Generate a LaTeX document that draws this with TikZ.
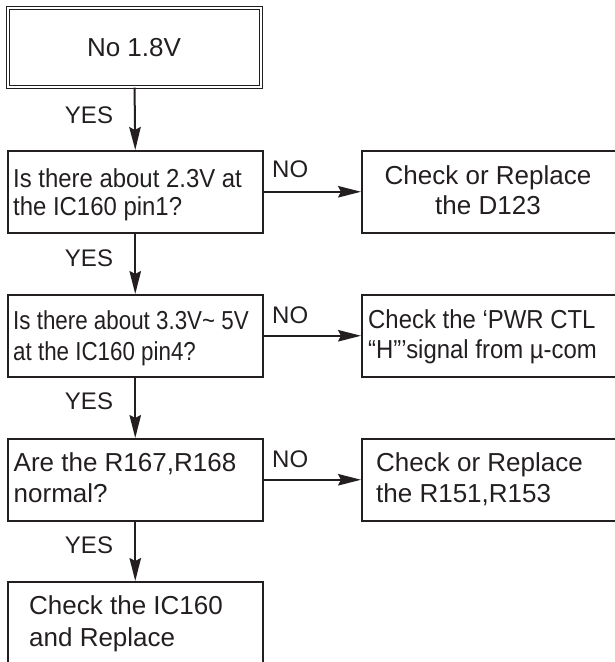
\documentclass[tikz,border=0pt]{standalone}
\usepackage{fontspec}
\setmainfont{Liberation Sans}
\newfontfamily\narrowA[FakeStretch=0.92]{Liberation Sans}
\newfontfamily\narrowB[FakeStretch=0.86]{Liberation Sans}
\usetikzlibrary{arrows.meta}
\definecolor{ink}{HTML}{231F20}
\begin{document}
\begin{tikzpicture}[x=1pt,y=-1pt,
  box/.style={draw=ink, line width=1.5pt, inner sep=0pt, anchor=north west},
  arr/.style={draw=ink, line width=2pt, -{Stealth[length=23pt,width=11.5pt,inset=3pt]}},
  txt/.style={text=ink, inner sep=0pt, anchor=base west, font=\fontsize{26}{30}\selectfont},
  ctxt/.style={text=ink, inner sep=0pt, anchor=base, font=\fontsize{26}{30}\selectfont},
  lbl/.style={text=ink, inner sep=0pt, anchor=base, font=\fontsize{24}{28}\selectfont},
  nlbl/.style={text=ink, inner sep=0pt, anchor=base west, font=\fontsize{24}{28}\selectfont}]
\useasboundingbox (0,0) rectangle (615,662);
\clip (0,0) rectangle (615,662);
% boxes
\node[box, draw=ink, double, double distance=2pt, line width=1.1pt,
      minimum width=253pt, minimum height=79pt] (b1) at (7.5,7.5) {};
\node[box, minimum width=255pt, minimum height=82pt] (b2) at (7,150) {};
\node[box, minimum width=255pt, minimum height=82pt] (b3) at (7,294) {};
\node[box, minimum width=255pt, minimum height=82pt] (b4) at (7,438) {};
\node[box, minimum width=255pt, minimum height=90pt] (b5) at (7,581) {};
\node[box, minimum width=260pt, minimum height=82pt] (r1) at (361,150) {};
\node[box, minimum width=260pt, minimum height=82pt] (r2) at (361,294) {};
\node[box, minimum width=260pt, minimum height=82pt] (r3) at (361,438) {};
% texts
\node[ctxt] (t1) at (134,56.5) {No 1.8V};
\node[txt] (t2a) at (13,187) {\narrowA Is there about 2.3V at};
\node[txt] (t2b) at (13,215.5) {\narrowA the IC160 pin1?};
\node[txt] (t3a) at (13,329) {\narrowB Is there about 3.3V\char"007E\ 5V};
\node[txt] (t3b) at (13,360) {\narrowB at the IC160 pin4?};
\node[txt] (t4a) at (13.5,471) {Are the R167,R168};
\node[txt] (t4b) at (13.5,502) {normal?};
\node[txt] (t5a) at (29,614) {Check the IC160};
\node[txt] (t5b) at (29,646.5) {and Replace};
\node[ctxt] (u1a) at (488,184) {Check or Replace};
\node[ctxt] (u1b) at (488,214) {the D123};
\node[txt] (u2a) at (368,328) {\narrowA Check the ‘PWR CTL};
\node[txt] (u2b) at (368,358) {\narrowA “H”’signal from µ-com};
\node[txt] (u3a) at (376,471) {Check or Replace};
\node[txt] (u3b) at (376,502) {the R151,R153};
% connectors
\draw[arr] (b1.south) -- (b2.north);
\draw[arr] (b2.south) -- (b3.north);
\draw[arr] (b3.south) -- (b4.north);
\draw[arr] (b4.south) -- (b5.north);
\draw[arr] (b2.east) -- (r1.west);
\draw[arr] (b3.east) -- (r2.west);
\draw[arr] (b4.east) -- (r3.west);
% labels
\node[lbl] (y1) at (89,123) {YES};
\node[lbl] (y2) at (89,266) {YES};
\node[lbl] (y3) at (89,409) {YES};
\node[lbl] (y4) at (89,553) {YES};
\node[nlbl] (n1) at (272,177) {NO};
\node[nlbl] (n2) at (272,323) {NO};
\node[nlbl] (n3) at (272,467) {NO};
\end{tikzpicture}
\end{document}
